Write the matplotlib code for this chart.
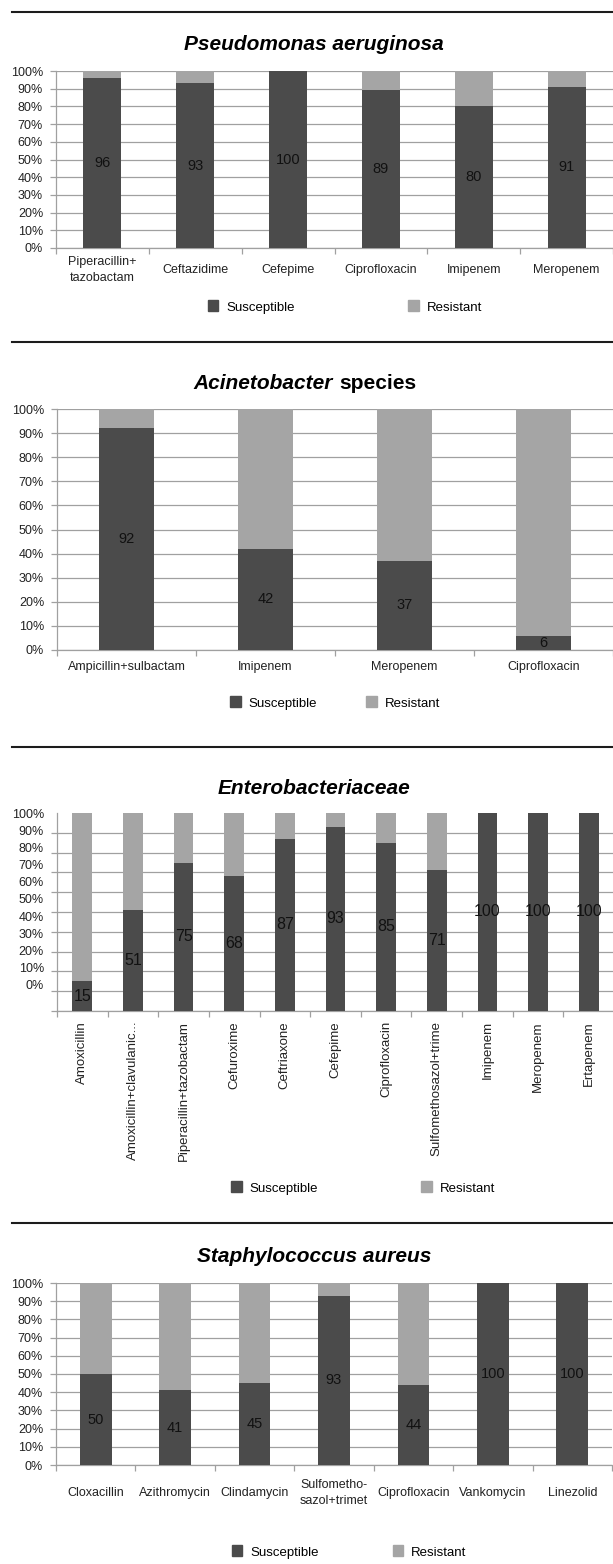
import matplotlib
matplotlib.use('Agg')
import matplotlib.pyplot as plt
from matplotlib.lines import Line2D
from matplotlib.patches import Patch
import numpy as np

W, H = 613, 1564
plt.rcParams['font.family'] = ['Liberation Sans', 'DejaVu Sans']

DARK = '#4b4b4b'
LIGHT = '#a5a5a5'
GRID = '#a0a0a0'

# --- data -------------------------------------------------------------
pseudo_drugs = ['Piperacillin+\ntazobactam', 'Ceftazidime', 'Cefepime',
                'Ciprofloxacin', 'Imipenem', 'Meropenem']
pseudo_sus = [96, 93, 100, 89, 80, 91]
pseudo_res = [4, 7, 0, 11, 20, 9]

acin_drugs = ['Ampicillin+sulbactam', 'Imipenem', 'Meropenem', 'Ciprofloxacin']
acin_sus = [92, 42, 37, 6]
acin_res = [8, 58, 63, 94]

entero_drugs = ['Amoxicillin', 'Amoxicillin+clavulanic...', 'Piperacillin+tazobactam',
                'Cefuroxime', 'Ceftriaxone', 'Cefepime', 'Ciprofloxacin',
                'Sulfomethosazol+trime', 'Imipenem', 'Meropenem', 'Ertapenem']
entero_sus = [15, 51, 75, 68, 87, 93, 85, 71, 100, 100, 100]
entero_res = [85, 49, 25, 32, 13, 7, 15, 29, 0, 0, 0]

staph_drugs = ['Cloxacillin', 'Azithromycin', 'Clindamycin', 'Sulfometho-\nsazol+trimet',
               'Ciprofloxacin', 'Vankomycin', 'Linezolid']
staph_sus = [50, 41, 45, 93, 44, 100, 100]
staph_res = [50, 59, 55, 7, 56, 0, 0]

pct_ticks = list(range(0, 101, 10))
pct_labels = ['%d%%' % v for v in pct_ticks]

fig = plt.figure(figsize=(W / 100, H / 100), dpi=100)


def box(l, t, r, b):
    return [l / W, 1 - b / H, (r - l) / W, (b - t) / H]


def panel(rect, drugs, sus, res, width, lab_pad, rot=0, lab_size=9, val_size=10.5, squeeze=False):
    ax = fig.add_axes(box(*rect))
    n = len(drugs)
    x = np.arange(n)
    b1 = ax.bar(x, sus, width, color=DARK, zorder=3)
    ax.bar(x, res, width, bottom=sus, color=LIGHT, zorder=3)
    ax.bar_label(b1, label_type='center', fontsize=val_size, color='#111111')
    ax.set_xlim(-0.5, n - 0.5)
    ax.set_ylim(0, 100)

    ax.set_xticks(x)
    ax.set_xticklabels(drugs, fontsize=lab_size, rotation=rot, color='#222222')
    ax.set_xticks(np.arange(n + 1) - 0.5, minor=True)
    ax.tick_params(axis='x', which='major', length=0, pad=lab_pad)
    ax.tick_params(axis='x', which='minor', length=4, color=GRID, width=0.9)
    if rot == 0:
        for lab in ax.get_xticklabels():
            lab.set_verticalalignment('center')
            lab.set_linespacing(1.45)

    if squeeze:
        # tick labels in the source are squeezed against the gridlines
        ax.set_yticks(pct_ticks, minor=True)
        ax.set_yticks([13.2 + v * 0.868 for v in pct_ticks])
        ax.set_yticklabels(pct_labels)
        ax.tick_params(axis='y', which='major', length=0, pad=9.4, labelsize=9, labelcolor='#222222')
        ax.tick_params(axis='y', which='minor', length=4.3, color=GRID, width=0.9)
        ax.grid(axis='y', which='minor', color=GRID, lw=0.9)
    else:
        ax.set_yticks(pct_ticks)
        ax.set_yticklabels(pct_labels)
        ax.tick_params(axis='y', length=4.3, pad=5, color=GRID, width=0.9,
                       labelsize=9, labelcolor='#222222')
        ax.grid(axis='y', color=GRID, lw=0.9)
    ax.set_axisbelow(True)
    for s in ['top', 'right']:
        ax.spines[s].set_visible(False)
    for s in ['left', 'bottom']:
        ax.spines[s].set_color(GRID)
        ax.spines[s].set_linewidth(0.9)
    return ax


def legend(cx, cy, cs):
    handles = [Patch(color=DARK, label='Susceptible'), Patch(color=LIGHT, label='Resistant')]
    fig.legend(handles=handles, loc='center', bbox_to_anchor=(cx / W, 1 - cy / H), ncol=2,
               frameon=False, fontsize=9.5, handlelength=0.8, handleheight=0.9,
               handletextpad=0.6, columnspacing=cs)


def separator(y):
    fig.add_artist(Line2D([12 / W, 1], [1 - y / H] * 2, color='#1c1c1c', lw=1.5))


title_kw = dict(fontsize=15, fontweight='bold', va='baseline')

# Pseudomonas
separator(12)
fig.text(314 / W, 1 - 50 / H, 'Pseudomonas aeruginosa', ha='center', style='italic', **title_kw)
panel((56, 71, 613, 248), pseudo_drugs, pseudo_sus, pseudo_res, 0.41, 15.8)
legend(345, 307, 8.6)

# Acinetobacter
separator(342)
fig.text(333 / W, 1 - 389 / H, 'Acinetobacter', ha='right', style='italic', **title_kw)
fig.text(339 / W, 1 - 389 / H, 'species', ha='left', **title_kw)
panel((57, 409, 613, 650), acin_drugs, acin_sus, acin_res, 0.40, 12.2)
legend(335, 703, 3.7)

# Enterobacteriaceae
separator(747)
fig.text(314 / W, 1 - 794 / H, 'Enterobacteriaceae', ha='center', style='italic', **title_kw)
panel((57, 813, 614, 1011), entero_drugs, entero_sus, entero_res, 0.39, 7.2, rot=90,
      lab_size=9.5, val_size=11.5, squeeze=True)
legend(363, 1188, 7.8)

# Staphylococcus
separator(1223)
fig.text(314 / W, 1 - 1262 / H, 'Staphylococcus aureus', ha='center', style='italic', **title_kw)
panel((56, 1283, 612, 1465), staph_drugs, staph_sus, staph_res, 0.40, 20.2)
legend(349, 1552, 5.6)

fig.savefig('out.png', dpi=100)
